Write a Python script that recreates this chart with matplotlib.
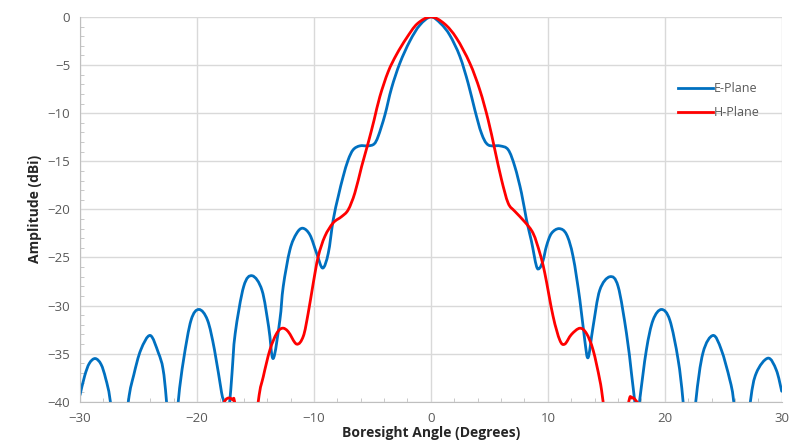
import matplotlib
matplotlib.use("Agg")
import matplotlib.pyplot as plt
from matplotlib.ticker import MultipleLocator
from matplotlib.path import Path
from matplotlib.patches import PathPatch
from matplotlib.lines import Line2D

# E-Plane pattern (deg, dBi); points below -40 are clipped
E_ANGLE = [-30.0, -29.6, -29.2, -28.7, -28.2, -27.8, -27.4, -26.6,
           -25.87, -25.4, -24.8, -24.0, -23.3, -22.9, -22.6, -22.1,
           -21.6, -21.14, -20.5, -19.83, -19.1, -18.5, -17.9, -17.7, -17.45,
           -17.2, -17.0, -16.73, -16.0, -15.27, -14.44, -13.87, -13.48,
           -12.91, -12.62, -12.05, -11.48, -10.95, -10.34, -9.77, -9.25,
           -8.77, -8.35, -7.92, -7.5, -7.07, -6.64, -6.07, -5.36,
           -4.85, -4.5, -3.93, -3.36, -2.65, -1.79, -0.94, 0.0,
           0.85, 1.62, 2.48, 3.19, 3.76, 4.33, 4.9, 5.9, 6.61,
           7.18, 7.75, 8.18, 8.6, 9.03, 9.3, 9.6, 9.89, 10.31, 10.97,
           11.6, 12.16, 12.74, 13.16, 13.45, 13.87, 14.44, 15.3, 16.01,
           16.73, 17.15, 17.44, 17.65, 17.86, 18.43, 19.0, 19.72, 20.43,
           21.14, 21.57, 22.1, 22.65, 23.27, 24.13, 24.84, 25.56, 25.9,
           26.6, 27.32, 27.83, 28.83, 29.54, 30.0]
E_AMP = [-39.3, -37.3, -36.0, -35.5, -36.1, -37.6, -40.0, -48.0,
         -40.0, -37.2, -34.6, -33.1, -34.9, -36.6, -40.0, -48.0,
         -40.0, -35.6, -31.5, -30.4, -31.5, -34.6, -39.0, -40.0, -42.0,
         -40.0, -37.0, -32.9, -28.0, -26.9, -28.4, -32.2, -35.5,
         -31.5, -28.0, -24.2, -22.5, -21.96, -22.65, -24.55, -26.1,
         -24.55, -21.1, -18.67, -16.6, -14.86, -13.8, -13.4, -13.4,
         -13.2, -12.4, -10.2, -7.4, -4.81, -2.5, -0.85, 0.0,
         -0.7, -1.9, -4.1, -6.9, -9.66, -12.1, -13.3, -13.4, -13.8,
         -15.55, -18.3, -21.1, -23.3, -25.9, -26.1, -25.3, -23.8, -22.5, -22.0,
         -22.6, -24.9, -29.4, -33.6, -35.4, -32.2, -28.4, -27.0, -28.0,
         -32.9, -37.0, -40.0, -42.0, -39.8, -34.6, -31.5, -30.4, -31.5,
         -35.6, -40.0, -48.0, -40.0, -34.9, -33.1, -34.6, -37.7, -40.0,
         -48.0, -40.0, -37.0, -35.46, -36.7, -38.9]

# H-Plane pattern
H_ANGLE = [-18.2, -17.8, -17.55, -17.26, -16.95, -16.7, -15.7,
           -14.76, -14.33, -13.76, -13.19, -12.7, -12.2, -11.48, -10.91,
           -10.49, -10.06, -9.63, -9.06, -8.35, -7.63, -7.07, -6.5,
           -5.92, -5.36, -4.85, -4.36, -3.65, -2.93, -2.08, -1.15, 0.0,
           1.15, 2.19, 3.33, 4.19, 4.9, 5.47, 6.04, 6.61, 7.18,
           8.03, 8.75, 9.32, 9.74, 10.45, 11.03, 11.45, 12.02, 12.74,
           13.31, 13.87, 14.44, 14.73, 15.8, 16.85, 17.2, 17.55, 17.8, 18.2]
H_AMP = [-44.0, -40.6, -39.8, -39.6, -39.8, -40.6, -50.0,
         -40.0, -37.4, -34.6, -32.9, -32.35, -32.7, -34.0, -33.2,
         -30.8, -27.7, -24.9, -22.8, -21.4, -20.75, -20.05, -18.3,
         -15.55, -13.1, -10.7, -8.28, -5.7, -3.9, -2.2, -0.7, 0.0,
         -0.7, -2.2, -4.8, -7.6, -10.7, -13.8, -16.9, -19.35, -20.2,
         -21.3, -22.5, -24.55, -26.6, -31.1, -33.6, -34.0, -33.0, -32.35,
         -32.9, -34.6, -37.7, -40.0, -50.0, -40.5, -39.6, -39.9, -40.6, -44.0]

X_TICKS = [-30, -20, -10, 0, 10, 20, 30]
Y_TICKS = [0, -5, -10, -15, -20, -25, -30, -35, -40]

GRAY = '#595959'
BLUE = '#0070C0'
RED = '#FF0000'
plt.rcParams['font.family'] = ['Open Sans', 'DejaVu Sans']


def smooth_path(xs, ys):
    # Excel style smoothed line: cubic Bezier through every point
    verts = [(xs[0], ys[0])]
    codes = [Path.MOVETO]
    n = len(xs)
    for i in range(n - 1):
        x0, y0 = xs[max(i - 1, 0)], ys[max(i - 1, 0)]
        x1, y1 = xs[i], ys[i]
        x2, y2 = xs[i + 1], ys[i + 1]
        x3, y3 = xs[min(i + 2, n - 1)], ys[min(i + 2, n - 1)]
        c1 = (x1 + (x2 - x0) / 6, y1 + (y2 - y0) / 6)
        c2 = (x2 - (x3 - x1) / 6, y2 - (y3 - y1) / 6)
        verts += [c1, c2, (x2, y2)]
        codes += [Path.CURVE4] * 3
    return Path(verts, codes)


fig = plt.figure(figsize=(7.92, 4.45), dpi=100)
ax = fig.add_axes([0.101, 0.097, 0.886, 0.865])

for xs, ys, col in [(E_ANGLE, E_AMP, BLUE), (H_ANGLE, H_AMP, RED)]:
    ax.add_patch(PathPatch(smooth_path(xs, ys), facecolor='none',
                           edgecolor=col, linewidth=2.0, joinstyle='round',
                           capstyle='round'))

ax.set_xlim(-30, 30)
ax.set_ylim(-40, 0)
ax.set_xticks(X_TICKS)
ax.set_yticks(Y_TICKS)
ax.xaxis.set_minor_locator(MultipleLocator(2))
ax.yaxis.set_minor_locator(MultipleLocator(1))
ax.tick_params(which='major', length=0, labelsize=9.5, labelcolor=GRAY, pad=7)
ax.tick_params(which='minor', direction='in', length=3, color='#BFBFBF')
ax.grid(True, which='major', color='#D9D9D9', linewidth=1.0)
ax.set_axisbelow(True)
for side in ['top', 'right']:
    ax.spines[side].set_visible(False)
for side in ['left', 'bottom']:
    ax.spines[side].set_color('#BFBFBF')

ax.set_xlabel('Boresight Angle (Degrees)', fontsize=10, fontweight='bold',
              color='#262626', labelpad=1)
ax.set_ylabel('Amplitude (dBi)', fontsize=10, fontweight='bold',
              color='#262626', labelpad=4)

handles = [Line2D([], [], color=BLUE, linewidth=2.0),
           Line2D([], [], color=RED, linewidth=2.0)]
leg = ax.legend(handles, ['E-Plane', 'H-Plane'], loc='upper right',
                bbox_to_anchor=(0.985, 0.86), frameon=False,
                fontsize=9, handlelength=2.8, handletextpad=0.1,
                labelspacing=0.9)
for t in leg.get_texts():
    t.set_color(GRAY)

fig.savefig('out.png', dpi=100)
